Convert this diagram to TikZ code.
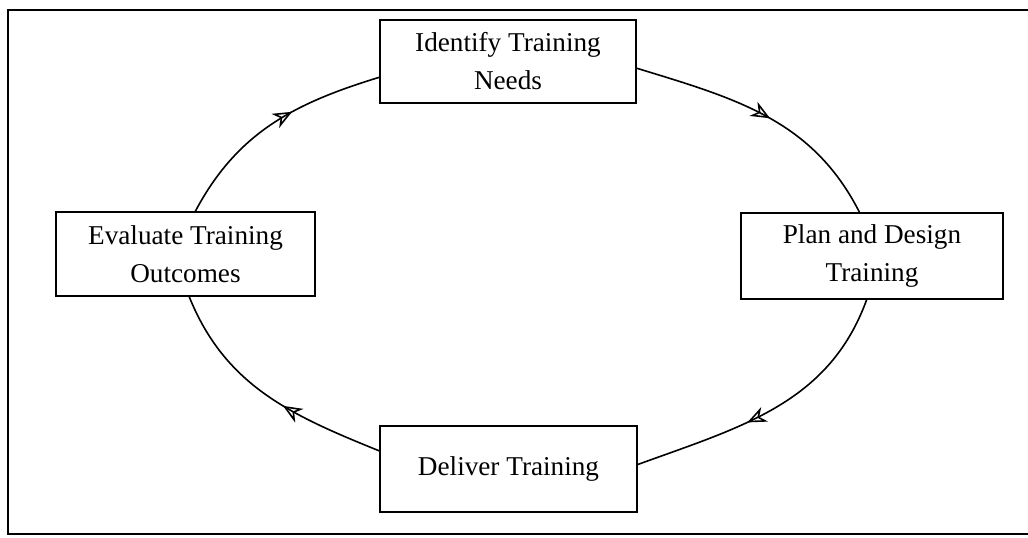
\documentclass[tikz,border=0pt]{standalone}
\usepackage{fontspec}
\setmainfont{Liberation Serif}
\usetikzlibrary{arrows.meta, decorations.markings}

\tikzset{
    stagebox/.style={draw, line width=0.8pt, fill=white, align=center, inner sep=0pt,
        font=\fontsize{13.6}{19}\selectfont},
    cycleline/.style={line width=0.8pt, postaction={decorate,
        decoration={markings, mark=at position #1 with {\arrow{Stealth[open, length=9.5pt, width=8pt, inset=3pt, line width=0.8pt]}}}}}
}

\begin{document}
\begin{tikzpicture}[x=0.5pt, y=-0.5pt]
    \useasboundingbox (0,0) rectangle (1028,537);
    % outer frame (open on the right, cut off)
    \draw[line width=1.1pt] (1032,10) -- (8,10) -- (8,534) -- (1032,534);

    % stages of the cycle
    \node[stagebox, minimum width=128pt, minimum height=41.5pt] (identify) at (508,61.5) {Identify Training\\Needs};
    \node[stagebox, minimum width=131pt, minimum height=43pt] (plan) at (872,256) {Plan and Design\\Training};
    \node[stagebox, minimum width=128.5pt, minimum height=43pt] (deliver) at (508.5,469) {Deliver Training};
    \node[stagebox, minimum width=129.5pt, minimum height=42pt] (evaluate) at (185.5,254) {Evaluate Training\\Outcomes};

    % connectors
    \draw[cycleline=0.52] (identify.-3.35) to[out=-17, in=117] (plan.106.8);
    \draw[cycleline=0.6] (plan.263.4) to[out=-110, in=20] (deliver.2.7);
    \draw[cycleline=0.42] (deliver.172.9) to[out=158, in=-68] (evaluate.-85.2);
    \draw[cycleline=0.6] (evaluate.77.3) to[out=62, in=197] (identify.187.3);
\end{tikzpicture}
\end{document}
